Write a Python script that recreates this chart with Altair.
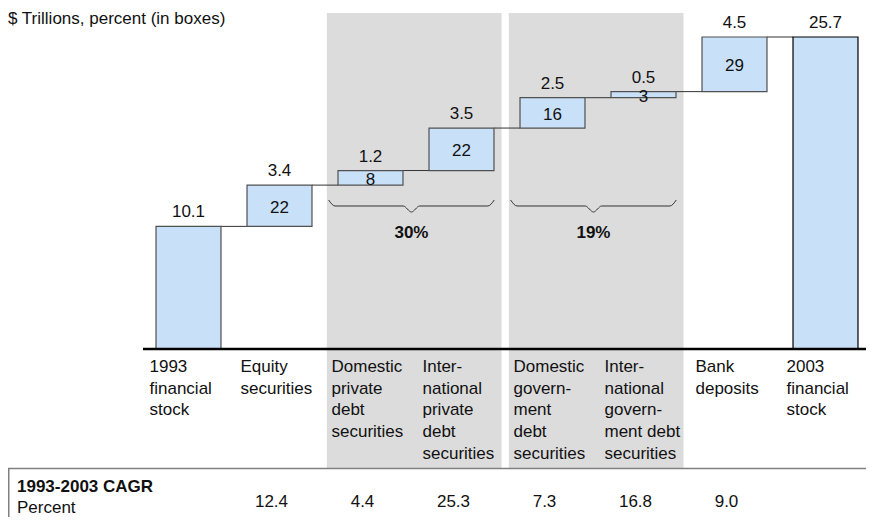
import altair as alt
import pandas as pd

# ---------------- data ----------------
categories = ["1993 financial stock", "Equity securities", "Domestic private debt securities",
              "International private debt securities", "Domestic government debt securities",
              "International government debt securities", "Bank deposits", "2003 financial stock"]
label_lines = [["1993", "financial", "stock"],
               ["Equity", "securities"],
               ["Domestic", "private", "debt", "securities"],
               ["Inter-", "national", "private", "debt", "securities"],
               ["Domestic", "govern-", "ment", "debt", "securities"],
               ["Inter-", "national", "govern-", "ment debt", "securities"],
               ["Bank", "deposits"],
               ["2003", "financial", "stock"]]
values = [10.1, 3.4, 1.2, 3.5, 2.5, 0.5, 4.5, 25.7]
is_total = [True, False, False, False, False, False, False, True]
box_pct = [None, 22, 8, 22, 16, 3, 29, None]
cagr = ["", "12.4", "4.4", "25.3", "7.3", "16.8", "9.0", ""]
group_labels = ["30%", "19%"]
group_members = [(2, 3), (4, 5)]
title_text = "$ Trillions, percent (in boxes)"
table_title = "1993-2003 CAGR"
table_sub = "Percent"

# ---------------- layout ----------------
W, H = 858, 509
FONT = "Liberation Sans, Arial, Helvetica, sans-serif"
FS = 17
STEP = 91.0          # px per category
X0 = 180.5           # plot-x of first category centre
BASE = 341.0         # plot-y of zero
K = 12.14            # px per unit
HALF = 0.357         # half bar width in category units
BAR_FILL = "#c8e0f8"
BAND_FILL = "#dcdcdc"
TXT = "#111111"

xs = alt.Scale(domain=[-X0 / STEP, (W - X0) / STEP], nice=False, zero=False)
ys = alt.Scale(domain=[-(H - BASE) / K, BASE / K], nice=False, zero=False)


def yv(py):
    return (BASE - py) / K


rows = []
cum = 0.0
for i, (c, v, t) in enumerate(zip(categories, values, is_total)):
    if t:
        start, end = 0.0, v
        cum = v
    else:
        start, end = cum, cum + v
        cum = end
    rows.append(dict(idx=i, cat=c, lo=i - HALF, hi=i + HALF, start=start, end=end,
                     top=max(start, end), mid=(start + end) / 2,
                     vlabel=f"{v:.1f}", pct=box_pct[i],
                     lines=label_lines[i], cagr=cagr[i],
                     stroke="#000000" if i == len(categories) - 1 else "#505050"))
df = pd.DataFrame(rows)

conn = pd.DataFrame([dict(x=r["idx"] + HALF, x2=r["idx"] + 1 - HALF, y=r["end"])
                     for r in rows[:-1]])

bands = pd.DataFrame([dict(lo=a - 0.48, hi=b + 0.44) for a, b in group_members])

brace_pts = []
glab = []
for g, ((a, b), lab) in enumerate(zip(group_members, group_labels)):
    lo, hi = a - 0.46, b + 0.36
    m = (lo + hi) / 2
    pts = [(lo, 192), (lo + 0.07, 198), (m - 0.09, 198), (m, 204),
           (m + 0.09, 198), (hi - 0.07, 198), (hi, 192)]
    for k, (px, py) in enumerate(pts):
        brace_pts.append(dict(g=g, k=k, x=px, y=yv(py)))
    glab.append(dict(x=m, label=lab))
brace_df = pd.DataFrame(brace_pts)
glab_df = pd.DataFrame(glab)

base_df = pd.DataFrame([dict(x=-0.5, x2=len(categories) - 0.5, y=0.0)])

X = lambda f: alt.X(f, type="quantitative", scale=xs, axis=None)
Y = lambda f: alt.Y(f, type="quantitative", scale=ys, axis=None)

band_layer = alt.Chart(bands).mark_rect(color=BAND_FILL).encode(
    x=X("lo"), x2="hi", y=alt.value(5), y2=alt.value(460))

conn_layer = alt.Chart(conn).mark_rule(color="#333333", strokeWidth=1).encode(
    x=X("x"), x2="x2", y=Y("y"))

bar_layer = alt.Chart(df).mark_rect(fill=BAR_FILL, strokeWidth=1.2).encode(
    x=X("lo"), x2="hi", y=Y("start"), y2="end",
    stroke=alt.Stroke("stroke:N", scale=None))

base_layer = alt.Chart(base_df).mark_rule(color="#000000", strokeWidth=2.5).encode(
    x=X("x"), x2="x2", y=Y("y"))

val_layer = alt.Chart(df).mark_text(font=FONT, fontSize=FS, baseline="alphabetic",
                                    dy=-9, color=TXT).encode(
    x=X("idx"), y=Y("top"), text="vlabel:N")

pct_layer = alt.Chart(df).transform_filter("isValid(datum.pct)").mark_text(
    font=FONT, fontSize=FS, baseline="middle", dy=2, color=TXT).encode(
    x=X("idx"), y=Y("mid"), text=alt.Text("pct:Q", format="d"))

brace_layer = alt.Chart(brace_df).mark_line(interpolate="monotone", color="#333333",
                                            strokeWidth=1).encode(
    x=X("x"), y=Y("y"), detail="g:N", order="k:Q")

glab_layer = alt.Chart(glab_df).mark_text(font=FONT, fontSize=FS, fontWeight="bold",
                                          baseline="middle", color=TXT).encode(
    x=X("x"), y=alt.value(225), text="label:N")

cat_layer = alt.Chart(df).mark_text(font=FONT, fontSize=FS, align="left", baseline="alphabetic",
                                    dx=-39, lineHeight=21.7, color=TXT).encode(
    x=X("idx"), y=alt.value(364), text="lines")

cagr_layer = alt.Chart(df).mark_text(font=FONT, fontSize=FS, baseline="middle", dx=-8,
                                     color=TXT).encode(
    x=X("idx"), y=alt.value(494), text="cagr:N")

table_line = alt.Chart(base_df).mark_rule(color="#808080", strokeWidth=1.5).encode(
    x=alt.value(0), x2=alt.value(W), y=alt.value(460.5))
table_vline = alt.Chart(base_df).mark_rule(color="#808080", strokeWidth=1.5).encode(
    x=alt.value(0.75), y=alt.value(460.5), y2=alt.value(H))

ttl = pd.DataFrame([dict(t=table_title, s=table_sub, h=title_text)])
table_title_layer = alt.Chart(ttl).mark_text(font=FONT, fontSize=FS, fontWeight="bold",
                                             align="left", baseline="middle",
                                             color=TXT).encode(
    x=alt.value(9), y=alt.value(479), text="t:N")
table_sub_layer = alt.Chart(ttl).mark_text(font=FONT, fontSize=FS, align="left",
                                           baseline="middle", color=TXT).encode(
    x=alt.value(9), y=alt.value(500), text="s:N")
title_layer = alt.Chart(ttl).mark_text(font=FONT, fontSize=FS, align="left",
                                       baseline="alphabetic", color=TXT).encode(
    x=alt.value(0), y=alt.value(16), text="h:N")

chart = alt.layer(
    band_layer, conn_layer, bar_layer, base_layer, val_layer, pct_layer,
    brace_layer, glab_layer, cat_layer, cagr_layer, table_line, table_vline,
    table_title_layer, table_sub_layer, title_layer
).properties(
    width=W, height=H, padding=0,
    autosize=alt.AutoSizeParams(type="none"),
    background="white"
).configure_view(stroke=None)

chart.save("out.html", embed_options={"renderer": "svg", "actions": False})
